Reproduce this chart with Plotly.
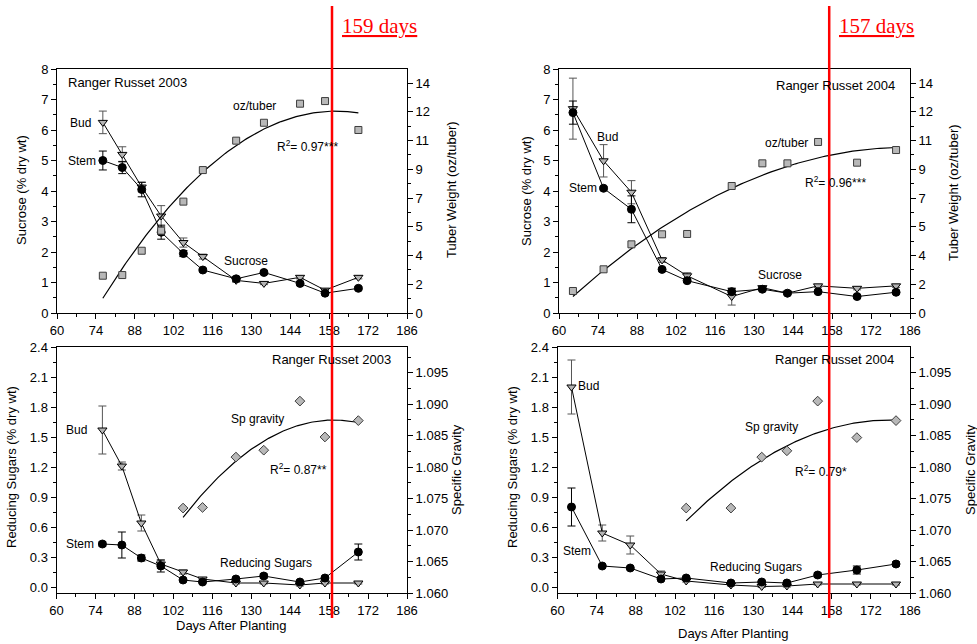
import numpy as np
import plotly.graph_objects as go

W, H = 977, 644

# ---------------- data ----------------
days_2003 = [76.5, 83.5, 90.5, 97.5, 105.5, 112.5, 124.5, 134.5, 147.5, 156.5, 168.5]
days_2004 = [65, 76, 86, 97, 106, 122, 133, 142, 153, 167, 181]

# Sucrose (% dry wt)
suc_bud_2003 = [6.25, 5.2, 4.13, 3.18, 2.31, 1.85, 1.07, 0.97, 1.17, 0.75, 1.17]
suc_bud_2003_err = [0.37, 0.25, 0.15, 0.34, 0.15, 0.08, 0.06, 0.04, 0.05, 0.05, 0.05]
suc_stem_2003 = [5.0, 4.77, 4.05, 2.65, 1.95, 1.41, 1.12, 1.33, 0.97, 0.65, 0.81]
suc_stem_2003_err = [0.31, 0.2, 0.24, 0.23, 0.1, 0.05, 0.08, 0.05, 0.05, 0.05, 0.05]
tuber_2003 = [2.27, 2.31, 3.79, 5.01, 6.78, 8.70, 10.49, 11.58, 12.74, 12.90, 11.14]

suc_bud_2004 = [6.7, 4.99, 3.96, 1.74, 1.22, 0.54, 0.83, 0.65, 0.89, 0.81, 0.89]
suc_bud_2004_err = [1.0, 0.53, 0.38, 0.08, 0.1, 0.28, 0.05, 0.05, 0.05, 0.05, 0.05]
suc_stem_2004 = [6.57, 4.09, 3.40, 1.43, 1.06, 0.70, 0.78, 0.65, 0.70, 0.54, 0.68]
suc_stem_2004_err = [0.38, 0.05, 0.44, 0.05, 0.05, 0.1, 0.05, 0.05, 0.05, 0.05, 0.05]
tuber_2004 = [1.34, 2.66, 4.18, 4.79, 4.81, 7.73, 9.11, 9.11, 10.41, 9.15, 9.92]

# Reducing sugars (% dry wt) and specific gravity
rs_bud_2003 = [1.57, 1.21, 0.64, 0.23, 0.15, 0.08, 0.04, 0.04, 0.02, 0.04, 0.04]
rs_bud_2003_err = [0.24, 0.04, 0.08, 0.04, 0.02, 0.01, 0.01, 0.01, 0.01, 0.01, 0.01]
rs_stem_2003 = [0.43, 0.42, 0.29, 0.21, 0.07, 0.05, 0.08, 0.11, 0.05, 0.09, 0.35]
rs_stem_2003_err = [0.02, 0.13, 0.03, 0.06, 0.01, 0.01, 0.01, 0.02, 0.01, 0.01, 0.08]
sg_days_2003 = [105.5, 112.5, 124.5, 134.5, 147.5, 156.5, 168.5]
sg_2003 = [1.0735, 1.0736, 1.0816, 1.0827, 1.0905, 1.0848, 1.0874]

rs_bud_2004 = [2.00, 0.54, 0.42, 0.13, 0.06, 0.02, 0.005, 0.01, 0.03, 0.03, 0.03]
rs_bud_2004_err = [0.27, 0.08, 0.09, 0.03, 0.01, 0.01, 0.01, 0.01, 0.01, 0.01, 0.01]
rs_stem_2004 = [0.80, 0.21, 0.19, 0.08, 0.09, 0.04, 0.05, 0.04, 0.12, 0.17, 0.23]
rs_stem_2004_err = [0.19, 0.01, 0.01, 0.01, 0.01, 0.01, 0.01, 0.01, 0.02, 0.04, 0.02]
sg_days_2004 = [106, 122, 133, 142, 153, 167, 181]
sg_2004 = [1.0735, 1.0735, 1.0816, 1.0826, 1.0905, 1.0847, 1.0874]

harvest_days = [159, 157]
tuber_ticks = [0, 1.75, 3.5, 5.25, 7, 8.75, 10.5, 12.25, 14]
tuber_ticktext = ["0", "2", "4", "5", "7", "9", "11", "12", "14"]

# ---------------- helpers ----------------
FONT = "Arial, Liberation Sans, sans-serif"


def pxx(x):
    return x / W


def pxy(y):
    return 1 - y / H


fig = go.Figure()

BUD_FILL = "#b4b4b4"
SQ_FILL = "#b8b8b8"


def add_series(x, y, err, xa, ya, kind, errcolor):
    if kind == "stem":
        marker = dict(symbol="circle", size=8, color="black", line=dict(color="black", width=1))
    else:
        marker = dict(symbol="triangle-down", size=8, color=BUD_FILL, line=dict(color="black", width=1))
    fig.add_trace(go.Scatter(
        x=x, y=y, xaxis=xa, yaxis=ya, mode="lines+markers",
        line=dict(color="black", width=1), marker=marker,
        error_y=dict(type="data", array=err, visible=True, color=errcolor, thickness=1, width=4),
        hoverinfo="skip", showlegend=False))


def add_fit(x, y, xa, ya, symbol, size):
    c = np.polyfit(x, y, 2)
    xs = np.linspace(min(x), max(x), 120)
    fig.add_trace(go.Scatter(x=xs, y=np.polyval(c, xs), xaxis=xa, yaxis=ya, mode="lines",
                             line=dict(color="black", width=1.2), hoverinfo="skip", showlegend=False))
    fig.add_trace(go.Scatter(x=x, y=y, xaxis=xa, yaxis=ya, mode="markers",
                             marker=dict(symbol=symbol, size=size, color=SQ_FILL,
                                         line=dict(color="#3c3c3c", width=1)),
                             hoverinfo="skip", showlegend=False))


# Top-left: 2003 sucrose
add_fit(days_2003, tuber_2003, "x", "y2", "square", 7)
add_series(days_2003, suc_bud_2003, suc_bud_2003_err, "x", "y", "bud", "#555555")
add_series(days_2003, suc_stem_2003, suc_stem_2003_err, "x", "y", "stem", "black")

# Top-right: 2004 sucrose
add_fit(days_2004, tuber_2004, "x2", "y4", "square", 7)
add_series(days_2004, suc_bud_2004, suc_bud_2004_err, "x2", "y3", "bud", "#555555")
add_series(days_2004, suc_stem_2004, suc_stem_2004_err, "x2", "y3", "stem", "black")

# Bottom-left: 2003 reducing sugars
add_fit(sg_days_2003, sg_2003, "x3", "y6", "diamond", 7.5)
add_series(days_2003, rs_bud_2003, rs_bud_2003_err, "x3", "y5", "bud", "#555555")
add_series(days_2003, rs_stem_2003, rs_stem_2003_err, "x3", "y5", "stem", "black")

# Bottom-right: 2004 reducing sugars
add_fit(sg_days_2004, sg_2004, "x4", "y8", "diamond", 7.5)
add_series(days_2004, rs_bud_2004, rs_bud_2004_err, "x4", "y7", "bud", "#555555")
add_series(days_2004, rs_stem_2004, rs_stem_2004_err, "x4", "y7", "stem", "black")

tickfont = dict(family=FONT, size=13, color="black")


def xaxis(domain, anchor):
    return dict(domain=domain, anchor=anchor, range=[60, 186], tickmode="linear", tick0=60, dtick=14,
                ticks="outside", ticklen=5, tickwidth=1, tickcolor="black",
                minor=dict(tickmode="linear", tick0=60, dtick=7, ticks="outside", ticklen=3,
                           tickwidth=1, tickcolor="black"),
                showline=True, linecolor="black", linewidth=1, mirror=True, automargin=False,
                showgrid=False, zeroline=False, tickfont=tickfont)


def yaxis_base(domain, anchor, rng, **kw):
    d = dict(domain=domain, anchor=anchor, range=rng, ticks="outside", ticklen=5, tickwidth=1,
             tickcolor="black", showline=True, linecolor="black", linewidth=1, automargin=False,
             showgrid=False, zeroline=False, tickfont=tickfont)
    d.update(kw)
    return d


TOPY = [pxy(313), pxy(69)]
BOTY = [pxy(593), pxy(347)]
TLX = [pxx(57), pxx(407)]
TRX = [pxx(559), pxx(910)]
BLX = [pxx(56.5), pxx(407)]
BRX = [pxx(557.5), pxx(910)]

suc_minor = dict(tickmode="linear", tick0=0, dtick=0.5, ticks="outside", ticklen=3, tickcolor="black")
tub_minor = dict(tickmode="array", tickvals=[0.875 + 1.75 * i for i in range(8)],
                 ticks="outside", ticklen=3, tickcolor="black")
rs_minor = dict(tickmode="linear", tick0=0, dtick=0.15, ticks="outside", ticklen=3, tickcolor="black")
sg_minor = dict(tickmode="linear", tick0=1.06, dtick=0.0025, ticks="outside", ticklen=3, tickcolor="black")

SUC_RANGE = [0, 8]
TUB_RANGE = [0, 14 * 244 / 230]
RS_RANGE = [-0.06, 2.4]
SG_RANGE = [1.060, 1.0991]

fig.update_layout(
    template="none",
    width=W, height=H, margin=dict(l=0, r=0, t=0, b=0, pad=0, autoexpand=False),
    paper_bgcolor="white", plot_bgcolor="white", showlegend=False,
    font=dict(family=FONT, size=13, color="black"),
    xaxis=xaxis(TLX, "y"), xaxis2=xaxis(TRX, "y3"), xaxis3=xaxis(BLX, "y5"), xaxis4=xaxis(BRX, "y7"),
    yaxis=yaxis_base(TOPY, "x", SUC_RANGE, tickmode="linear", tick0=0, dtick=1, minor=suc_minor),
    yaxis2=yaxis_base(TOPY, "x", TUB_RANGE, overlaying="y", side="right", tickmode="array",
                      tickvals=tuber_ticks, ticktext=tuber_ticktext, minor=tub_minor),
    yaxis3=yaxis_base(TOPY, "x2", SUC_RANGE, tickmode="linear", tick0=0, dtick=1, minor=suc_minor),
    yaxis4=yaxis_base(TOPY, "x2", TUB_RANGE, overlaying="y3", side="right", tickmode="array",
                      tickvals=tuber_ticks, ticktext=tuber_ticktext, minor=tub_minor),
    yaxis5=yaxis_base(BOTY, "x3", RS_RANGE, tickmode="linear", tick0=0, dtick=0.3, tickformat=".1f",
                      minor=rs_minor),
    yaxis6=yaxis_base(BOTY, "x3", SG_RANGE, overlaying="y5", side="right", tickmode="linear",
                      tick0=1.06, dtick=0.005, tickformat=".3f", minor=sg_minor),
    yaxis7=yaxis_base(BOTY, "x4", RS_RANGE, tickmode="linear", tick0=0, dtick=0.3, tickformat=".1f",
                      minor=rs_minor),
    yaxis8=yaxis_base(BOTY, "x4", SG_RANGE, overlaying="y7", side="right", tickmode="linear",
                      tick0=1.06, dtick=0.005, tickformat=".3f", minor=sg_minor),
)

# Harvest lines
for d, xr in zip(harvest_days, ["x", "x2"]):
    fig.add_shape(type="line", xref=xr, yref="paper", x0=d, x1=d, y0=pxy(618), y1=pxy(6),
                  line=dict(color="#ff0000", width=2.5), layer="above")

red_labels = [("<u>%d days</u>" % harvest_days[0], 340), ("<u>%d days</u>" % harvest_days[1], 837)]
for txt, x in red_labels:
    fig.add_annotation(text=txt, x=pxx(x), y=pxy(26), xref="paper", yref="paper", xanchor="left",
                       yanchor="middle", showarrow=False,
                       font=dict(family="Times New Roman, Liberation Serif, serif", size=21, color="#ff0000"))

labels = [
    ("Ranger Russet 2003", 66, 83, "left", 13),
    ("Bud", 80, 123, "center", 12),
    ("Stem", 82, 161, "center", 12),
    ("oz/tuber", 254, 106, "center", 12),
    ("R<sup>2</sup>= 0.97***", 275, 146, "left", 12),
    ("Sucrose", 246, 261, "center", 12),
    ("Ranger Russet 2004", 897, 85, "right", 13),
    ("Bud", 607, 137, "center", 12),
    ("Stem", 583, 188, "center", 12),
    ("oz/tuber", 786, 143, "center", 12),
    ("R<sup>2</sup>= 0.96***", 803, 182, "left", 12),
    ("Sucrose", 780, 275, "center", 12),
    ("Ranger Russet 2003", 393, 360, "right", 13),
    ("Bud", 76, 430, "center", 12),
    ("Stem", 80, 544, "center", 12),
    ("Sp gravity", 257, 419, "center", 12),
    ("R<sup>2</sup>= 0.87**", 268, 469, "left", 12),
    ("Reducing Sugars", 266, 563, "center", 12),
    ("Ranger Russet 2004", 896, 359, "right", 13),
    ("Bud", 588, 386, "center", 12),
    ("Stem", 577, 551, "center", 12),
    ("Sp gravity", 771, 427, "center", 12),
    ("R<sup>2</sup>= 0.79*", 793, 471, "left", 12),
    ("Reducing Sugars", 756, 567, "center", 12),
]
for txt, x, y, anc, sz in labels:
    fig.add_annotation(text=txt, x=pxx(x), y=pxy(y), xref="paper", yref="paper", xanchor=anc,
                       yanchor="middle", showarrow=False, font=dict(family=FONT, size=sz, color="black"))

titles = [
    ("Sucrose (% dry wt)", 22, 190, -90),
    ("Tuber Weight (oz/tuber)", 452, 190, -90),
    ("Sucrose (% dry wt)", 527, 191, -90),
    ("Tuber Weight (oz/tuber)", 953, 193, -90),
    ("Reducing Sugars (% dry wt)", 12, 467, -90),
    ("Specific Gravity", 456, 470, -90),
    ("Reducing Sugars (% dry wt)", 513, 467, -90),
    ("Specific Gravity", 970, 470, -90),
    ("Days After Planting", 231, 625, 0),
    ("Days After Planting", 733, 633, 0),
]
for txt, x, y, ang in titles:
    fig.add_annotation(text=txt, x=pxx(x), y=pxy(y), xref="paper", yref="paper", xanchor="center",
                       yanchor="middle", showarrow=False, textangle=ang,
                       font=dict(family=FONT, size=13, color="black"))

fig.write_html("out.html")
